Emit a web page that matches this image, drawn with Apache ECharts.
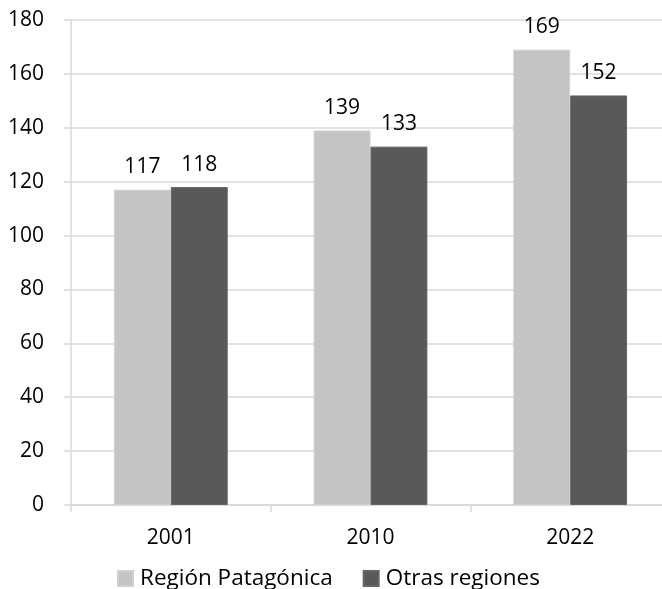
<!DOCTYPE html>
<html>
<head>
<meta charset="utf-8">
<script src="https://cdn.jsdelivr.net/npm/echarts@6/dist/echarts.min.js"></script>
<style>
  html, body { margin: 0; padding: 0; background: #ffffff; overflow: hidden; }
  /* the plot runs slightly past the right edge of the window */
  #chart { width: 670px; height: 589px; }
</style>
</head>
<body>
<div id="chart"></div>
<script>
// Census years on the category axis
const years = ['2001', '2010', '2022'];
// Series values per census year
const regionPatagonica = [117, 139, 169];
const otrasRegiones = [118, 133, 152];
// Series names shown in the legend
const seriesNames = ['Región Patagónica', 'Otras regiones'];
// Value axis range and step
const yMin = 0;
const yMax = 180;
const yStep = 20;

const FONT = '"Open Sans", "Noto Sans", sans-serif';
const LINE = '#d9d9d9';

const chart = echarts.init(document.getElementById('chart'), null, { renderer: 'canvas' });

const valueLabel = {
  show: true,
  position: 'top',
  distance: 12,
  color: '#000',
  fontFamily: FONT,
  fontSize: 21
};

chart.setOption({
  animation: false,
  backgroundColor: '#ffffff',
  grid: { left: 71, right: 0, top: 20, bottom: 84, containLabel: false },
  legend: {
    data: seriesNames,
    left: 117,
    top: 567,
    padding: 0,
    icon: 'rect',
    itemWidth: 15,
    itemHeight: 15,
    itemGap: 30,
    textStyle: { color: '#000', fontFamily: FONT, fontSize: 22.5, padding: [0, 0, 0, 2] }
  },
  xAxis: {
    type: 'category',
    data: years,
    axisLine: { show: true, lineStyle: { color: LINE, width: 1.5 } },
    axisTick: { show: true, length: 7, alignWithLabel: false, lineStyle: { color: LINE, width: 1.5 } },
    axisLabel: { color: '#000', fontFamily: FONT, fontSize: 21, margin: 23 }
  },
  yAxis: {
    type: 'value',
    min: yMin,
    max: yMax,
    interval: yStep,
    axisLine: { show: true, lineStyle: { color: LINE, width: 1.5 } },
    axisTick: { show: true, length: 7, lineStyle: { color: LINE, width: 1.5 } },
    splitLine: { show: true, lineStyle: { color: LINE, width: 1.5 } },
    axisLabel: { color: '#000', fontFamily: FONT, fontSize: 21, margin: 27 }
  },
  series: [
    {
      name: seriesNames[0],
      type: 'bar',
      data: regionPatagonica,
      barGap: '0%',
      barCategoryGap: '43%',
      itemStyle: { color: '#c4c4c4', borderColor: '#d0d0d0', borderWidth: 1 },
      label: valueLabel
    },
    {
      name: seriesNames[1],
      type: 'bar',
      data: otrasRegiones,
      barGap: '0%',
      barCategoryGap: '43%',
      itemStyle: { color: '#595959', borderColor: '#656565', borderWidth: 1 },
      label: valueLabel
    }
  ]
});
</script>
</body>
</html>
